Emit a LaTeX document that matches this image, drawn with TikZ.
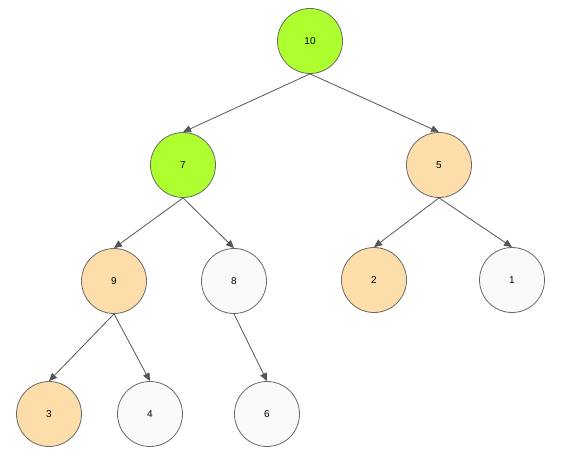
\documentclass[tikz,border=0pt]{standalone}
\usepackage{fontspec}
\setmainfont{Liberation Sans}
\usetikzlibrary{arrows.meta}
\definecolor{gfill}{HTML}{ADFF2F}
\definecolor{ofill}{HTML}{FDDEAB}
\definecolor{wfill}{HTML}{FAFAFA}
\definecolor{bord}{HTML}{6A6A6A}
\definecolor{edgec}{HTML}{555555}
\begin{document}
\begin{tikzpicture}[x=1pt,y=-1pt,
  hnode/.style={circle,draw=bord,line width=0.8pt,minimum size=65pt,inner sep=0pt,font=\fontsize{10}{12}\selectfont},
  gn/.style={hnode,fill=gfill},
  on/.style={hnode,fill=ofill},
  wn/.style={hnode,fill=wfill},
  edge/.style={draw=edgec,line width=0.8pt,-{Triangle[length=8pt,width=7pt]}}]
\useasboundingbox (0,0) rectangle (561,457);
\node[gn] (n10) at (310,41) {10};
\node[gn] (n7) at (183,165) {7};
\node[on] (n5) at (439,165) {5};
\node[on] (n9) at (114,281) {9};
\node[wn] (n8) at (234,281) {8};
\node[on] (n2) at (374,280) {2};
\node[wn] (n1) at (512,280) {1};
\node[on] (n3) at (49,414) {3};
\node[wn] (n4) at (150,414) {4};
\node[wn] (n6) at (267,414) {6};
\draw[edge] (n10.south) -- (n7.north);
\draw[edge] (n10.south) -- (n5.north);
\draw[edge] (n7.south) -- (n9.north);
\draw[edge] (n7.south) -- (n8.north);
\draw[edge] (n5.south) -- (n2.north);
\draw[edge] (n5.south) -- (n1.north);
\draw[edge] (n9.south) -- (n3.north);
\draw[edge] (n9.south) -- (n4.north);
\draw[edge] (n8.south) -- (n6.north);
\end{tikzpicture}
\end{document}
